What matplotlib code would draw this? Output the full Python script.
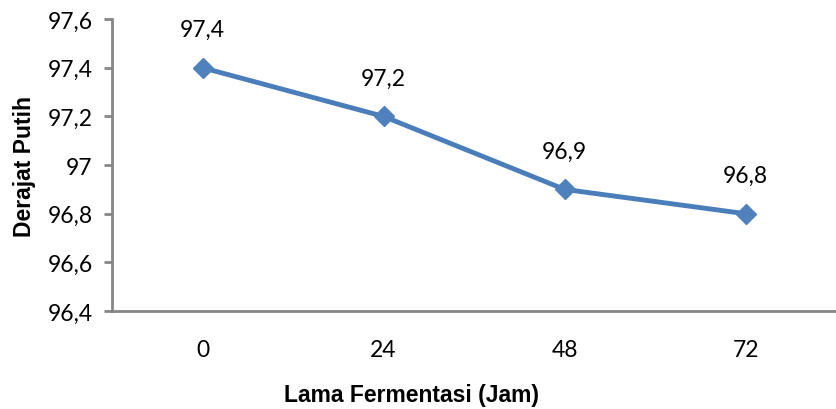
import matplotlib.pyplot as plt
from matplotlib.ticker import FixedLocator, FuncFormatter

# data
lama = ['0', '24', '48', '72']
derajat_putih = [97.4, 97.2, 96.9, 96.8]
label_nilai = ['97,4', '97,2', '96,9', '96,8']
y_ticks = [96.4, 96.6, 96.8, 97.0, 97.2, 97.4, 97.6]

fig = plt.figure(figsize=(8.36, 4.1), dpi=100)
ax = fig.add_axes([0.134, 0.239, 0.866, 0.712])

x = list(range(len(lama)))
ax.plot(x, derajat_putih, color='#4A7EBB', linewidth=3.5, marker='D',
        markersize=10, markerfacecolor='#4F81BD', markeredgecolor='#4F81BD')

for xi, yi, t in zip(x, derajat_putih, label_nilai):
    ax.annotate(t, (xi, yi), xytext=(0, 20), textcoords='offset points',
                ha='center', va='bottom', fontsize=16.5, family='Lato')

ax.set_xlim(-0.5, 3.5)
ax.set_ylim(96.4, 97.6)
ax.set_xticks(x)
ax.set_xticklabels(lama, fontsize=16.5, family='Lato')
ax.yaxis.set_major_locator(FixedLocator(y_ticks))
ax.yaxis.set_major_formatter(FuncFormatter(lambda v, p: ('%g' % round(v, 1)).replace('.', ',')))
for lbl in ax.get_yticklabels():
    lbl.set_family('Lato')
    lbl.set_fontsize(16.5)

ax.tick_params(axis='x', length=0, pad=20)
ax.tick_params(axis='y', length=6, width=2, color='#868686', pad=8)
for s in ['top', 'right']:
    ax.spines[s].set_visible(False)
for s in ['left', 'bottom']:
    ax.spines[s].set_color('#868686')
    ax.spines[s].set_linewidth(2)

ax.set_xlabel('Lama Fermentasi (Jam)', fontsize=16.5, fontweight='bold',
              family='Liberation Sans', va='center')
ax.xaxis.set_label_coords(0.414, -0.285)
ax.set_ylabel('Derajat Putih', fontsize=16.5, fontweight='bold',
              family='Liberation Sans', labelpad=8)

fig.savefig('out.png', dpi=100)
